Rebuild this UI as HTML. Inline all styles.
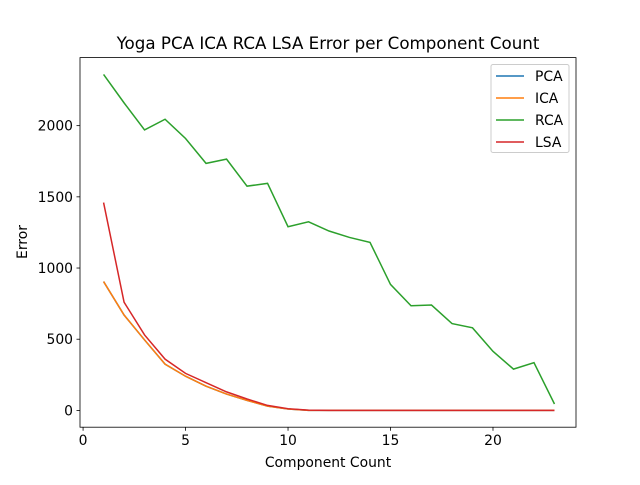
<!DOCTYPE html>
<html><head><meta charset="utf-8"><style>
body{margin:0;background:#fff;font-family:"Liberation Sans","DejaVu Sans",sans-serif}
svg text{font-family:"DejaVu Sans","Liberation Sans",sans-serif}
</style></head><body>
<svg id="c" width="640" height="480" xmlns="http://www.w3.org/2000/svg"></svg>
<script>
const components=[1,2,3,4,5,6,7,8,9,10,11,12,13,14,15,16,17,18,19,20,21,22,23];
const pcaValues=[905,670,495,325,240,170,115,70,30,10,0,0,0,0,0,0,0,0,0,0,0,0,0];
const icaValues=[905,670,495,325,240,170,115,70,30,10,0,0,0,0,0,0,0,0,0,0,0,0,0];
const rcaValues=[2360,2160,1970,2045,1910,1735,1765,1575,1595,1290,1325,1260,1215,1180,885,735,740,610,580,415,290,335,45];
const lsaValues=[1460,760,530,360,260,195,130,80,35,12,2,0,0,0,0,0,0,0,0,0,0,0,0];
const xTicks=[0,5,10,15,20];
const yTicks=[0,500,1000,1500,2000];
const seriesNames=["PCA","ICA","RCA","LSA"];
const colors=["#1f77b4","#ff7f0e","#2ca02c","#d62728"];

const L=80,R=576,T=57.6,B=427.2;
const xmin=-0.15,xmax=24.05,ymin=-118,ymax=2478;
const sx=v=>L+(v-xmin)/(xmax-xmin)*(R-L);
const sy=v=>B-(v-ymin)/(ymax-ymin)*(B-T);
const svg=document.getElementById('c');
const NS="http://www.w3.org/2000/svg";
function mk(tag,attrs,parent){const e=document.createElementNS(NS,tag);for(const k in attrs)e.setAttribute(k,attrs[k]);(parent||svg).appendChild(e);return e;}

const title=mk('text',{x:328,y:49,'text-anchor':'middle','font-size':16.7,fill:'#000'});
title.textContent="Yoga PCA ICA RCA LSA Error per Component Count";



xTicks.forEach(t=>{
  const g=mk('g',{});
  
  
  mk('line',{x1:sx(t),x2:sx(t),y1:B,y2:B+3.5,stroke:'#000','stroke-width':0.8},g);
  const tx=mk('text',{x:sx(t),y:B+18,'text-anchor':'middle','font-size':13.9},g);tx.textContent=t;
});
yTicks.forEach(t=>{
  const g=mk('g',{});
  
  
  mk('line',{x1:L-3.5,x2:L,y1:sy(t),y2:sy(t),stroke:'#000','stroke-width':0.8},g);
  const tx=mk('text',{x:L-7,y:sy(t)+5,'text-anchor':'end','font-size':13.9},g);tx.textContent=t;
});
const xl=mk('text',{x:328,y:467,'text-anchor':'middle','font-size':13.9});xl.textContent="Component Count";


const yl=mk('text',{x:27,y:242,'text-anchor':'middle','font-size':13.9,transform:'rotate(-90 27 242)'});yl.textContent="Error";



const all=[pcaValues,icaValues,rcaValues,lsaValues];
all.forEach((vals,i)=>{
  const d=vals.map((v,j)=>(j?'L':'M')+sx(components[j]).toFixed(2)+','+sy(v).toFixed(2)).join(' ');
  const p=mk('path',{d:d,fill:'none',stroke:colors[i],'stroke-width':1.5});
  
  
});

const frame=mk('rect',{x:L,y:T,width:R-L,height:B-T,fill:'none',stroke:'#000','stroke-width':0.8});



const lg=mk('g',{});


mk('rect',{x:491,y:64.5,width:78,height:88,rx:2,fill:'#fff','fill-opacity':0.8,stroke:'#ccc','stroke-width':1},lg);
seriesNames.forEach((n,i)=>{
  const g=mk('g',{},lg);
  
  
  const y=76+i*22;
  mk('line',{x1:496,x2:524,y1:y,y2:y,stroke:colors[i],'stroke-width':1.5},g);
  const t=mk('text',{x:535,y:y+5,'font-size':13.9},g);t.textContent=n;
});
</script>
</body></html>
